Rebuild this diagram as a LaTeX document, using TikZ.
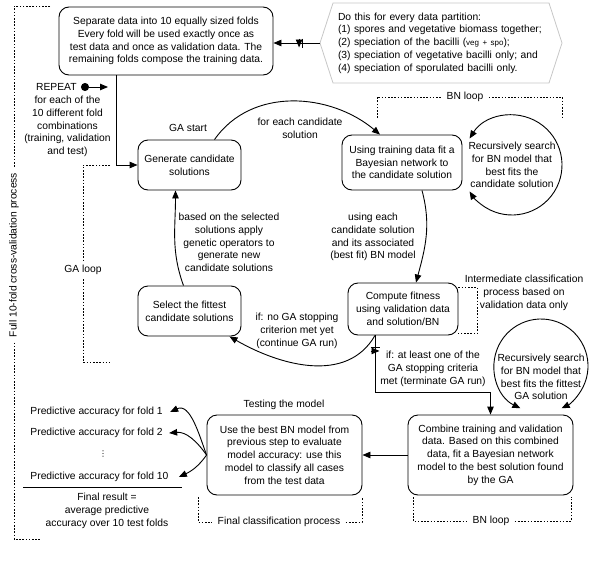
\documentclass[tikz,border=0pt]{standalone}
\usepackage{fontspec}
\setmainfont{Liberation Sans}
\newfontfamily\symfont{DejaVu Sans}
\usetikzlibrary{arrows.meta,shapes.symbols,decorations.markings}
\begin{document}
\begin{tikzpicture}[x=1pt,y=1pt,line width=0.9pt,>={Triangle[length=8pt,width=6.5pt]},
    font=\fontsize{10.3}{12.7}\selectfont,
    box/.style={draw,rounded corners=10pt,align=center,inner sep=2pt},
    txt/.style={align=center,inner sep=0pt},
    loopline/.style={line width=0.8pt,dash pattern=on 1.6pt off 1.6pt},
    looplabel/.style={fill=white,inner xsep=5pt,inner ysep=4pt},
    bars/.style={postaction={decorate,decoration={markings,
        mark=at position #1 with {\draw[line width=0.9pt] (0,-4.5) -- (0,4.5) (3.5,-4.5) -- (3.5,4.5);}}}}]
\useasboundingbox (0,0) rectangle (600,-573);
\node[box,minimum width=214,minimum height=68] (sep) at (166,-41) {Separate data into 10 equally sized folds\\Every fold will be used exactly once as\\test data and once as validation data. The\\remaining folds compose the training data.};
\node[signal,signal to=west and east,signal pointer angle=144,draw=black!22,line width=0.8pt,minimum height=80,text width=206,inner xsep=5pt,align=left] (part) at (441,-43) {Do this for every data partition:\\(1) spores and vegetative biomass together;\\(2) speciation of the bacilli ({\fontsize{8}{10}\selectfont veg + spo});\\(3) speciation of vegetative bacilli only; and\\(4) speciation of sporulated bacilli only.};
\node[txt,anchor=east] (repeat) at (77,-87) {REPEAT};
\node[txt] (repeattxt) at (67.5,-126.5) {for each of the\\10 different fold\\combinations\\(training, validation\\and test)};
\node[box,minimum width=103,minimum height=50] (gen) at (189.5,-165) {Generate candidate\\solutions};
\node[txt] (gastart) at (188,-128) {GA start};
\node[box,minimum width=120,minimum height=55] (fit) at (402,-162.5) {Using training data fit a\\Bayesian network to\\the candidate solution};
\node[txt] (search1) at (512,-165) {Recursively search\\for BN model that\\best fits the\\candidate solution};
\node[box,minimum width=110,minimum height=52] (fitness) at (403,-309) {Compute fitness\\using validation data\\and solution/BN};
\node[box,minimum width=103,minimum height=50] (select) at (189.5,-311) {Select the fittest\\candidate solutions};
\node[box,minimum width=165,minimum height=80] (combine) at (490.5,-455) {Combine training and validation\\data. Based on this combined\\data, fit a Bayesian network\\model to the best solution found\\by the GA};
\node[txt] (search2) at (541,-377) {Recursively search\\for BN model that\\best fits the fittest\\GA solution};
\node[box,minimum width=155,minimum height=80] (test) at (284.5,-455) {Use the best BN model from\\previous step to evaluate\\model accuracy: use this\\model to classify all cases\\from the test data};
\node[txt] (testing) at (284,-405) {Testing the model};
\node[txt] (foreach) at (300,-128.5) {for each candidate\\solution};
\node[txt] (usingeach) at (373,-237) {using each\\candidate solution\\and its associated\\(best fit) BN model};
\node[txt] (nostop) at (297,-331) {if: no GA stopping\\criterion met yet\\(continue GA run)};
\node[txt] (operators) at (229,-242.5) {based on the selected\\solutions apply\\genetic operators to\\generate new\\candidate solutions};
\node[txt] (stop) at (433,-369) {if: at least one of the\\GA stopping criteria\\met (terminate GA run)};
\node[txt] (intermediate) at (524,-293) {Intermediate classification\\process based on\\validation data only};
\node[txt,anchor=west] (fold1) at (30,-412) {Predictive accuracy for fold 1};
\node[txt,anchor=west] (fold2) at (30,-433) {Predictive accuracy for fold 2};
\node[txt,font=\symfont\fontsize{8}{8}\selectfont] (morefolds) at (103,-454) {⋮};
\node[txt,anchor=west] (fold10) at (30,-477) {Predictive accuracy for fold 10};
\node[txt] (result) at (107,-511) {Final result =\\average predictive\\accuracy over 10 test folds};
\draw (23,-487) -- (182,-487);
\node[looplabel,rotate=90] (full) at (14,-255) {Full 10-fold cross-validation process};
\node[looplabel] (galoop) at (83,-270) {GA loop};
\node[looplabel] (bnloop1) at (465,-97) {BN loop};
\node[looplabel] (bnloop2) at (491,-521) {BN loop};
\node[looplabel] (finalcl) at (279,-522) {Final classification process};
\draw[loopline] (50,-6) -| (full.east);
\draw[loopline] (full.west) |- (40,-539);
\draw[loopline] (110,-165) -| (galoop.north);
\draw[loopline] (galoop.south) |- (110,-362);
\draw[loopline] (377,-118) |- (bnloop1.west);
\draw[loopline] (bnloop1.east) -| (562,-117);
\draw[loopline] (413,-497) |- (bnloop2.west);
\draw[loopline] (bnloop2.east) -| (571,-497);
\draw[loopline] (198,-497) |- (finalcl.west);
\draw[loopline] (finalcl.east) -| (362,-497);
\draw[loopline] ([yshift=-5pt]fitness.north east) -- ++(19,0) |- ([yshift=2pt]fitness.south east);
\draw[->,bars=17pt] (part.west) -- (part.west -| sep.east);
\draw[{Circle[length=8pt]}->] ([xshift=4pt]repeat.east) -- ++(27,0);
\draw[->] ([xshift=-50pt]sep.south) |- (gen.west);
\draw[->] ([xshift=25pt]gen.north) to[out=55,in=140] ([xshift=-22pt]fit.north);
\draw[<->] (search1.center) ++(148:50) arc[start angle=148,end angle=-148,radius=50];
\draw[->] ([xshift=20pt]fit.south) to[out=-75,in=75] ([xshift=13pt]fitness.north);
\draw[->] ([xshift=-28pt]fitness.south) to[out=-120,in=-30] ([xshift=-12pt]select.south east);
\draw[->] ([xshift=-6pt]select.north) to[out=110,in=-90] ([xshift=-14pt]gen.south);
\draw[->,bars=12pt] ([xshift=-28pt]fitness.south) |- ([yshift=22pt]combine.north) -- (combine.north);
\draw[<->] ([yshift=11pt]search2.center) ++(-116:47) arc[start angle=-116,end angle=-424,radius=47];
\draw[->] (combine.west) -- (test.east);
\draw[->] (test.west) to[out=110,in=25] ([xshift=7pt]fold1.east);
\draw[->] (test.west) to[out=125,in=5] ([xshift=6pt]fold2.east);
\draw[->] (test.west) to[out=-125,in=25] ([xshift=10pt]fold10.east);
\end{tikzpicture}
\end{document}
